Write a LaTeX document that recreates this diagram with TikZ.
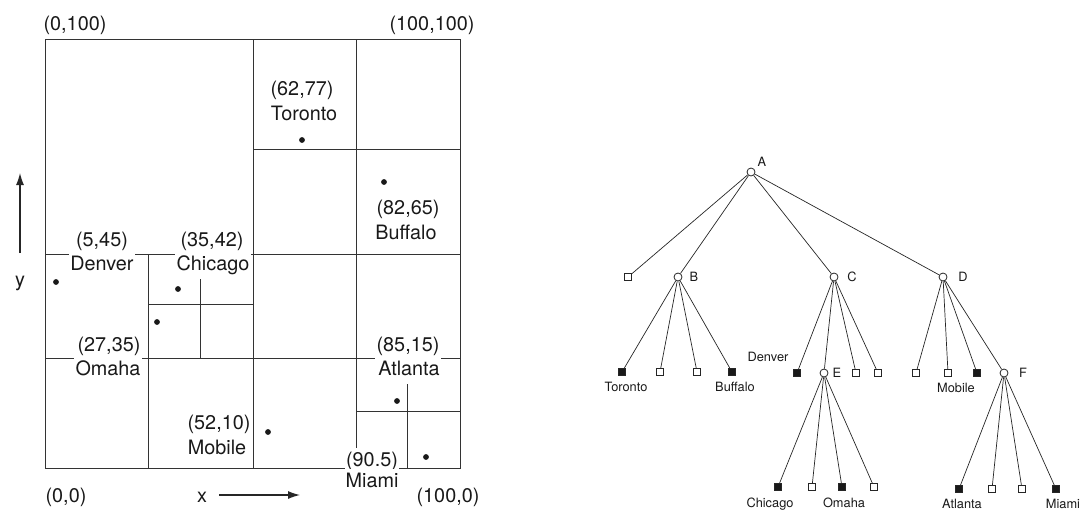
\documentclass[tikz,border=0pt]{standalone}
\usepackage{fontspec}
\setmainfont{TeX Gyre Heros}
\usetikzlibrary{arrows.meta}
\begin{document}
\begin{tikzpicture}[x=1pt,y=-1pt,
  grid/.style={draw=black!80, line width=0.9pt},
  coord/.style={font=\fontsize{19.8}{24}\selectfont, text=black!90, anchor=base, inner xsep=1.5pt, inner ysep=0pt},
  cut/.style={coord, fill=white, text height=15pt, text depth=5pt, inner ysep=3.5pt},
  city/.style={fill=black!90},
  axis/.style={draw=black!85, line width=1.2pt, -{Latex[length=12pt,width=8pt]}},
  inner/.style={circle, draw=black!85, fill=white, line width=0.8pt, minimum size=8pt, inner sep=0pt},
  empty/.style={rectangle, draw=black!85, fill=white, line width=0.8pt, minimum size=7pt, inner sep=0pt},
  full/.style={rectangle, draw=black!85, fill=black!90, line width=0.8pt, minimum size=7pt, inner sep=0pt},
  edge/.style={draw=black!85, line width=0.7pt},
  tlabel/.style={font=\fontsize{12.8}{15}\selectfont, text=black!90, anchor=base, inner sep=0pt}
]
\useasboundingbox (0,0) rectangle (1084,512);

% ---------- region quadtree ----------
\draw[grid] (45,39) rectangle (460,468.5);
\draw[grid] (253,39) -- (253,468.5);
\draw[grid] (45,254) -- (460,254);
% B split
\draw[grid] (356,39) -- (356,254);
\draw[grid] (253,149) -- (460,149);
% C split
\draw[grid] (148.5,254) -- (148.5,468.5);
\draw[grid] (45,358) -- (253,358);
% E split
\draw[grid] (200,254) -- (200,358);
\draw[grid] (148.5,304) -- (253,304);
% D split
\draw[grid] (356,254) -- (356,468.5);
\draw[grid] (253,358) -- (460,358);
% F split
\draw[grid] (407,358) -- (407,468.5);
\draw[grid] (356,411) -- (460,411);

% cities
\fill[city] (302,140) circle (2.9pt);
\fill[city] (384,182) circle (2.9pt);
\fill[city] (56,282) circle (2.9pt);
\fill[city] (178,289) circle (2.9pt);
\fill[city] (157,322) circle (2.9pt);
\fill[city] (268,432) circle (2.9pt);
\fill[city] (397,401) circle (2.9pt);
\fill[city] (426,457) circle (2.9pt);

% corner and city labels
\node[coord] (c0100) at (75,30) {(0,100)};
\node[coord] (c100100) at (432,30) {(100,100)};
\node[coord] (c00) at (66,502) {(0,0)};
\node[coord] (c1000) at (448,502) {(100,0)};
\node[coord] (torc) at (302,95) {(62,77)};
\node[coord] (torn) at (304,120) {Toronto};
\node[coord] (bufc) at (408,214) {(82,65)};
\node[coord] (bufn) at (406,239) {Buffalo};
\node[cut] (denc) at (102,246) {(5,45)};
\node[cut] (denn) at (102,270) {Denver};
\node[cut] (chic) at (212,246) {(35,42)};
\node[cut] (chin) at (213,270) {Chicago};
\node[cut] (omac) at (109,351) {(27,35)};
\node[cut] (oman) at (108,375) {Omaha};
\node[cut] (atlc) at (408,351) {(85,15)};
\node[cut] (atln) at (409,375) {Atlanta};
\node[coord] (mobc) at (219,429) {(52,10)};
\node[coord] (mobn) at (217,454) {Mobile};
\node[cut] (miac) at (372,466) {(90.5)};
\node[cut] (mian) at (372,487) {Miami};

% axes
\node[coord] (xlab) at (202,502) {x};
\coordinate (xs) at (219,495);
\coordinate (xe) at (300,495);
\draw[axis] (xs) -- (xe);
\node[coord] (ylab) at (20,286) {y};
\coordinate (ys) at (20,253);
\coordinate (ye) at (20,173);
\draw[axis] (ys) -- (ye);

% ---------- tree ----------
\node[inner] (A) at (751,172) {};
\node[empty] (a1) at (628,277) {};
\node[inner] (B) at (678,277) {};
\node[inner] (C) at (834,277) {};
\node[inner] (D) at (943,277) {};

\node[full]  (b1) at (622,372) {};
\node[empty] (b2) at (660,372) {};
\node[empty] (b3) at (697,372) {};
\node[full]  (b4) at (732,372) {};

\node[full]  (c1) at (797,373) {};
\node[inner] (E)  at (824,373) {};
\node[empty] (c3) at (856,373) {};
\node[empty] (c4) at (878,373) {};

\node[empty] (d1) at (916,373) {};
\node[empty] (d2) at (948,373) {};
\node[full]  (d3) at (977,373) {};
\node[inner] (F)  at (1004,373) {};

\node[full]  (e1) at (778,487) {};
\node[empty] (e2) at (812,487) {};
\node[full]  (e3) at (842,487) {};
\node[empty] (e4) at (874,487) {};

\node[full]  (f1) at (959,489) {};
\node[empty] (f2) at (992,489) {};
\node[empty] (f3) at (1022,489) {};
\node[full]  (f4) at (1056,489) {};

\foreach \p/\c in {A/a1,A/B,A/C,A/D,
                   B/b1,B/b2,B/b3,B/b4,
                   C/c1,C/E,C/c3,C/c4,
                   D/d1,D/d2,D/d3,D/F,
                   E/e1,E/e2,E/e3,E/e4,
                   F/f1,F/f2,F/f3,F/f4}
  \draw[edge] (\p) -- (\c);

\node[tlabel] (lA) at (762,166.6) {A};
\node[tlabel] (lB) at (694,281.6) {B};
\node[tlabel] (lC) at (852,281.6) {C};
\node[tlabel] (lD) at (963,281.6) {D};
\node[tlabel] (lE) at (837,377.6) {E};
\node[tlabel] (lF) at (1023,377.6) {F};
\node[tlabel] (lTor) at (626,391.6) {Toronto};
\node[tlabel] (lBuf) at (735,391.6) {Buffalo};
\node[tlabel] (lDen) at (768,361.6) {Denver};
\node[tlabel] (lMob) at (956,392.6) {Mobile};
\node[tlabel] (lChi) at (770,507.6) {Chicago};
\node[tlabel] (lOma) at (844,507.6) {Omaha};
\node[tlabel] (lAtl) at (962,508.6) {Atlanta};
\node[tlabel] (lMia) at (1063,508.6) {Miami};
\end{tikzpicture}
\end{document}
